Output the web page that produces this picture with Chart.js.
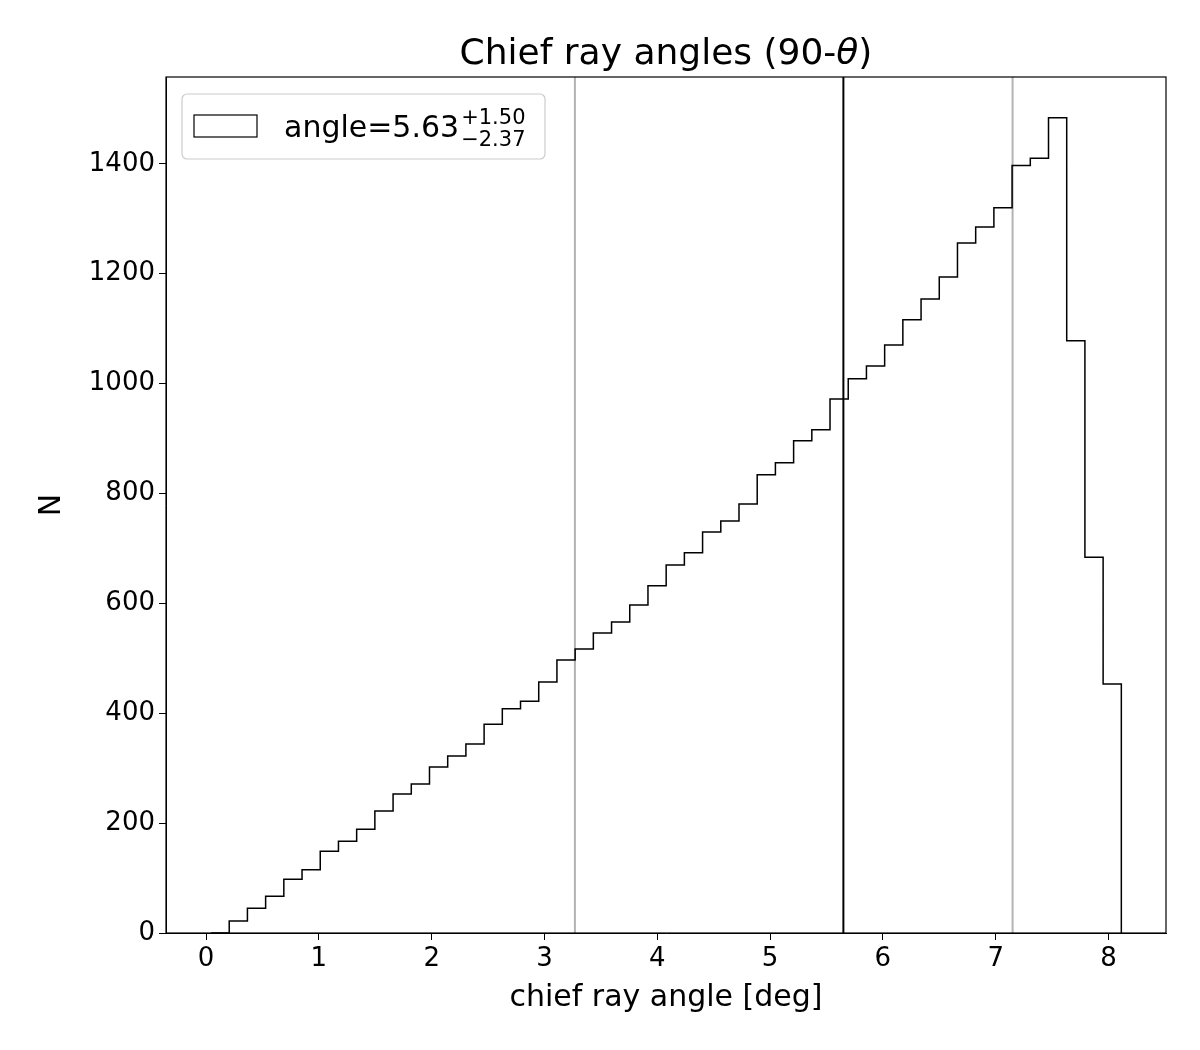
<!DOCTYPE html>
<html>
<head>
<meta charset="UTF-8" />
<title>Chief ray angles</title>
<script src="https://cdn.jsdelivr.net/npm/chart.js"></script>
<style>
  body { margin: 0; background: white; }
  #wrap { width: 1200px; height: 1050px; }
</style>
</head>
<body>
<div id="wrap"><canvas id="c" width="1200" height="1050"></canvas></div>
<script>
// histogram: 50 bins, first edge and bin width (deg)
const firstEdge = 0.044;
const binWidth = 0.1614;
const counts = [22, 45, 67, 98, 115, 149, 167, 189, 222, 253,
                271, 302, 322, 344, 380, 408, 422, 457, 497, 517,
                546, 566, 597, 632, 670, 692, 730, 750, 781, 834,
                856, 896, 916, 972, 1009, 1032, 1070, 1116, 1154, 1194,
                1256, 1285, 1320, 1397, 1410, 1484, 1078, 684, 453, 279];
const medianAngle = 5.65;
const lowerAngle = 3.27;
const upperAngle = 7.15;
const xTicks = [0, 1, 2, 3, 4, 5, 6, 7, 8];
const yTicks = [0, 200, 400, 600, 800, 1000, 1200, 1400];

const FONT = "'DejaVu Sans', sans-serif";

// step outline: each point carries the count of the bin ending at it
const steps = [{ x: firstEdge, y: 0 }];
counts.forEach((v, i) => steps.push({ x: firstEdge + (i + 1) * binWidth, y: v }));
const lastEdge = firstEdge + counts.length * binWidth;
steps.push({ x: lastEdge, y: 0 });

function vline(x, color) {
  return {
    data: [{ x: x, y: 0 }, { x: x, y: 1558 }],
    borderColor: color, borderWidth: 2, pointRadius: 0, fill: false
  };
}

// title, legend and frame
const decor = {
  id: 'decor',
  afterDraw(chart) {
    const ctx = chart.ctx, a = chart.chartArea;
    ctx.save();
    ctx.strokeStyle = 'black';
    ctx.lineWidth = 1.2;
    ctx.strokeRect(a.left, a.top, a.right - a.left, a.bottom - a.top);

    ctx.fillStyle = 'black';
    ctx.textBaseline = 'alphabetic';
    ctx.textAlign = 'left';
    const t1 = 'Chief ray angles (90-', t2 = 'θ', t3 = ')';
    ctx.font = '36px ' + FONT;
    const w1 = ctx.measureText(t1).width, w3 = ctx.measureText(t3).width;
    ctx.font = 'italic 36px ' + FONT;
    const w2 = ctx.measureText(t2).width;
    let x = (a.left + a.right) / 2 - (w1 + w2 + w3) / 2;
    ctx.font = '36px ' + FONT; ctx.fillText(t1, x, 64); x += w1;
    ctx.font = 'italic 36px ' + FONT; ctx.fillText(t2, x, 64); x += w2;
    ctx.font = '36px ' + FONT; ctx.fillText(t3, x, 64);

    // legend box
    ctx.strokeStyle = '#cccccc';
    ctx.lineWidth = 1.2;
    ctx.fillStyle = 'rgba(255,255,255,0.8)';
    ctx.beginPath();
    ctx.roundRect(182, 94, 363, 65, 5);
    ctx.fill(); ctx.stroke();
    ctx.strokeStyle = 'black';
    ctx.strokeRect(194, 115, 63, 22);
    ctx.fillStyle = 'black';
    ctx.font = '30px ' + FONT;
    ctx.fillText('angle=5.63', 284, 137);
    const wl = ctx.measureText('angle=5.63').width;
    ctx.font = '21px ' + FONT;
    ctx.fillText('+1.50', 284 + wl + 2, 124);
    ctx.fillText('−2.37', 284 + wl + 2, 146);
    ctx.restore();
  }
};

new Chart(document.getElementById('c').getContext('2d'), {
  type: 'line',
  data: {
    datasets: [
      { data: steps, stepped: 'before', borderColor: 'black', borderWidth: 1.5, pointRadius: 0, fill: false },
      vline(lowerAngle, '#b3b3b3'),
      vline(medianAngle, 'black'),
      vline(upperAngle, '#b3b3b3')
    ]
  },
  options: {
    responsive: false,
    devicePixelRatio: 1,
    animation: false,
    layout: { padding: { top: 77, right: 34, left: 30, bottom: 30 } },
    plugins: { legend: { display: false }, title: { display: false }, tooltip: { enabled: false } },
    scales: {
      x: {
        type: 'linear', min: -0.355, max: 8.51,
        afterBuildTicks: s => { s.ticks = xTicks.map(v => ({ value: v })); },
        afterFit: s => { s.height = 87; },
        grid: { drawOnChartArea: false, drawTicks: true, tickLength: 7, color: 'black' },
        border: { color: 'black' },
        ticks: { color: 'black', font: { family: FONT, size: 26 }, padding: 4, maxRotation: 0 },
        title: { display: true, text: 'chief ray angle [deg]', color: 'black', font: { family: FONT, size: 30 }, padding: { top: 0 } }
      },
      y: {
        min: 0, max: 1558,
        afterBuildTicks: s => { s.ticks = yTicks.map(v => ({ value: v })); },
        afterFit: s => { s.width = 136; },
        grid: { drawOnChartArea: false, drawTicks: true, tickLength: 7, color: 'black' },
        border: { color: 'black' },
        ticks: { color: 'black', font: { family: FONT, size: 26 }, padding: 4, callback: v => String(v) },
        title: { display: true, text: 'N', color: 'black', font: { family: FONT, size: 30 }, padding: { bottom: 0 } }
      }
    }
  },
  plugins: [decor]
});
</script>
</body>
</html>
